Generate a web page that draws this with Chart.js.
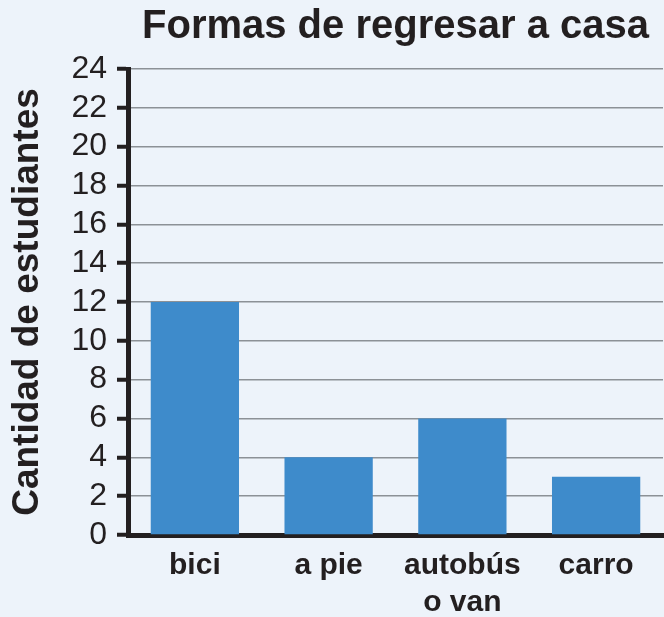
<!DOCTYPE html>
<html>
<head>
<meta charset="utf-8">
<script src="https://cdn.jsdelivr.net/npm/chart.js@4"></script>
<style>
  html, body { margin: 0; padding: 0; background: #edf3fa; }
  #wrap { width: 664px; height: 617px; }
</style>
</head>
<body>
<div id="wrap"><canvas id="regresoChart"></canvas></div>
<script>
  let categorias = ['bici', 'a pie', ['autobús', 'o van'], 'carro'];
  let estudiantes = [12, 4, 6, 3];
  let yMin = 0, yMax = 24, yStep = 2;

  let ink = '#231f20';
  let ctx = document.getElementById('regresoChart').getContext('2d');

  let chart = new Chart(ctx, {
    type: 'bar',
    data: {
      labels: categorias,
      datasets: [{
        data: estudiantes,
        backgroundColor: '#3e8bcb',
        categoryPercentage: 1,
        barPercentage: 0.66
      }]
    },
    options: {
      responsive: true,
      maintainAspectRatio: false,
      animation: false,
      layout: { padding: { left: 0, right: 1, top: 0, bottom: 0 } },
      plugins: {
        legend: { display: false },
        tooltip: { enabled: false },
        title: {
          display: true,
          fullSize: false,
          text: 'Formas de regresar a casa',
          color: ink,
          font: { family: 'Liberation Sans', size: 40, weight: 'bold', lineHeight: 1.2 },
          padding: { top: 3, bottom: 18 }
        }
      },
      scales: {
        x: {
          z: 1,
          afterFit: function(scale) { scale.height = 82; },
          grid: { display: false, drawTicks: false },
          border: { display: true, color: ink, width: 5 },
          ticks: {
            color: ink,
            padding: 12,
            font: { family: 'Liberation Sans', size: 30, weight: 'bold', lineHeight: 1.24 }
          }
        },
        y: {
          min: yMin,
          max: yMax,
          afterFit: function(scale) { scale.width = 128; },
          grid: {
            color: '#8c9196',
            lineWidth: 1.5,
            tickColor: ink,
            tickWidth: 4,
            tickLength: 11
          },
          border: { display: true, color: ink, width: 5 },
          ticks: {
            stepSize: yStep,
            autoSkip: false,
            color: ink,
            padding: 10,
            font: { family: 'Liberation Sans', size: 32 }
          },
          title: {
            display: true,
            text: 'Cantidad de estudiantes',
            color: ink,
            padding: { top: 6, bottom: 0 },
            font: { family: 'Liberation Sans', size: 37, weight: 'bold' }
          }
        }
      }
    }
  });
</script>
</body>
</html>
